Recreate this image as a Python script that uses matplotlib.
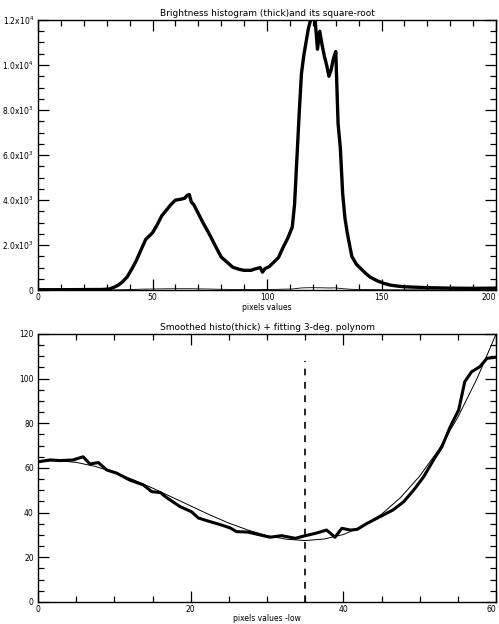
import numpy as np
from matplotlib import pyplot as plt
from matplotlib.ticker import MultipleLocator, FixedLocator, FixedFormatter

# histogram of brightness
hist_x = [0, 10, 20, 28, 31, 33, 35, 37, 39, 41, 43, 45, 47, 50, 52, 54, 56, 58, 60, 62,
          64, 65, 66, 67, 68, 70, 72, 75, 78, 80, 83, 85, 88, 90, 93, 95, 97, 98, 99, 101,
          103, 105, 107, 109, 111, 112, 113, 114, 115, 116, 117, 118, 119, 120, 121, 122,
          123, 124, 125, 126, 127, 128, 129, 130, 131, 132, 133, 134, 135, 137, 139, 141,
          143, 145, 148, 151, 154, 157, 160, 165, 170, 180, 190, 200]
hist_y = [20, 20, 25, 30, 50, 120, 220, 380, 600, 950, 1330, 1800, 2250, 2550, 2900, 3300,
          3550, 3800, 4000, 4030, 4080, 4200, 4250, 3900, 3800, 3400, 3000, 2450, 1850, 1470,
          1200, 1020, 920, 880, 880, 950, 1000, 800, 950, 1050, 1250, 1450, 1900, 2300, 2800,
          3800, 5800, 7800, 9600, 10400, 11000, 11600, 12000, 12100, 12000, 10700, 11500,
          10900, 10400, 10000, 9500, 9800, 10300, 10600, 7400, 6300, 4300, 3200, 2550, 1500,
          1150, 950, 750, 580, 420, 300, 220, 180, 150, 130, 110, 90, 80, 90]

# smoothed low part of histo
smooth_x = [0.1, 1.6, 2.9, 4.6, 5.9, 6.8, 7.9, 9.0, 10.3, 12.0, 13.8, 14.9, 16.0, 16.9,
            18.6, 20.1, 21.0, 22.5, 24.0, 25.2, 26.0, 27.5, 29.1, 30.4, 31.9, 33.7, 34.8,
            36.3, 37.8, 38.9, 39.8, 40.9, 41.8, 43.1, 44.8, 46.5, 47.9, 49.2, 50.5, 51.8,
            52.9, 54.0, 55.1, 55.9, 56.8, 57.9, 58.8, 60.0]
smooth_y = [62.8, 63.6, 63.3, 63.6, 65.0, 61.8, 62.4, 59.1, 57.7, 54.6, 52.4, 49.4, 49.0,
            46.6, 42.7, 40.4, 37.6, 36.0, 34.5, 33.1, 31.5, 31.3, 30.0, 29.0, 29.7, 28.5,
            29.5, 30.7, 32.2, 29.0, 33.0, 32.2, 32.5, 35.2, 38.2, 41.2, 44.9, 50.1, 56.0,
            63.6, 69.5, 78.5, 86.0, 98.7, 103.1, 105.4, 109.1, 109.6]

# 3-deg polynom fit (thin line)
fit_x = [0, 2.5, 5, 7.5, 10, 12.5, 15, 17.5, 20, 22.5, 25, 27.5, 30, 32.5, 35, 37.5, 40,
         42.5, 45, 47.5, 50, 52.5, 55, 57.5, 60]
fit_y = [63.0, 63.3, 62.5, 60.7, 58.0, 54.7, 51.0, 47.0, 43.0, 39.0, 35.3, 32.2, 29.7,
         28.1, 27.5, 28.2, 30.2, 33.9, 39.3, 46.8, 56.4, 68.3, 82.8, 100.0, 120.0]

top_xticks = [0, 50, 100, 150, 200]
bot_xticks = [0, 20, 40, 60]

x_min = 35
x_min_top = 108

fs = 5.5

def idl_axes(ax, xticks, xmin, ymaj, ymin):
    ax.xaxis.set_major_locator(FixedLocator(xticks))
    ax.xaxis.set_minor_locator(MultipleLocator(xmin))
    ax.yaxis.set_major_locator(MultipleLocator(ymaj))
    ax.yaxis.set_minor_locator(MultipleLocator(ymin))
    ax.tick_params(which='both', direction='in', top=True, right=True, labelsize=fs,
                   width=0.9)
    ax.tick_params(axis='x', pad=2)
    ax.tick_params(axis='y', pad=3)
    ax.tick_params(which='major', length=8)
    ax.tick_params(which='minor', length=4)
    for s in ax.spines.values():
        s.set_linewidth(1.0)

fig = plt.figure(figsize=(4.99, 6.24), dpi=100)

#верхний график
ax1 = fig.add_axes([0.0762, 0.535, 0.918, 0.433])
ax1.plot(hist_x, hist_y, color='black', lw=2.4)
ax1.plot(hist_x, np.sqrt(hist_y), color='black', lw=0.6)
ax1.set_xlim(0, 200)
ax1.set_ylim(0, 12000)
idl_axes(ax1, top_xticks, 10, 2000, 500)
ax1.yaxis.set_major_locator(FixedLocator([0, 2000, 4000, 6000, 8000, 10000, 12000]))
ax1.yaxis.set_major_formatter(FixedFormatter(
    ['0', r'2.0x10$^3$', r'4.0x10$^3$', r'6.0x10$^3$', r'8.0x10$^3$',
     r'1.0x10$^4$', r'1.2x10$^4$']))
ax1.set_title('Brightness histogram (thick)and its square-root', fontsize=6.5, pad=3)
ax1.set_xlabel('pixels values', fontsize=fs, labelpad=1)

#нижний график
ax2 = fig.add_axes([0.0762, 0.0353, 0.918, 0.4295])
ax2.plot(smooth_x, smooth_y, color='black', lw=2.2)
ax2.plot(fit_x, fit_y, color='black', lw=0.7)
ax2.plot([x_min, x_min], [0, x_min_top], color='black', lw=1.2, ls=(0, (4, 4)))
ax2.set_xlim(0, 60)
ax2.set_ylim(0, 120)
idl_axes(ax2, bot_xticks, 5, 20, 5)
ax2.set_title('Smoothed histo(thick) + fitting 3-deg. polynom', fontsize=6.5, pad=3)
ax2.set_xlabel('pixels values -low', fontsize=fs, labelpad=0)

# последние подписи прижать к правому краю
fig.canvas.draw()
for ax in (ax1, ax2):
    ax.xaxis.get_major_ticks()[-1].label1.set_horizontalalignment('right')

plt.savefig('out.png', dpi=100)
